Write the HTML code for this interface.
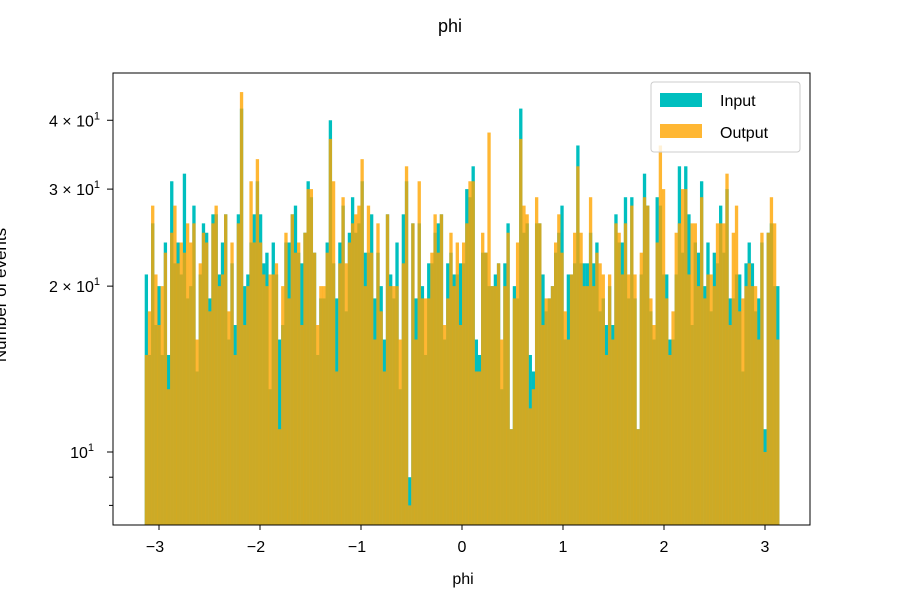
<!DOCTYPE html>
<html><head><meta charset="utf-8"><style>
body{margin:0;background:#fff;}
svg{display:block;font-family:"Liberation Sans","DejaVu Sans",sans-serif;}
</style></head><body>
<svg id="chart" width="902" height="600" viewBox="0 0 902 600">
<text x="450" y="32" font-size="18" text-anchor="middle">phi</text>
<g id="bars"></g>
<rect x="113" y="73" width="697" height="452" fill="none" stroke="#000" stroke-width="1"/>
<g id="xticks"></g>
<g id="yticks"></g>
<text x="463" y="584" font-size="16" text-anchor="middle">phi</text>
<text transform="translate(6,295) rotate(-90)" font-size="17" text-anchor="middle">Number of events</text>
<g>
<rect x="651" y="82" width="149" height="70" rx="3" fill="#fff" fill-opacity="0.8" stroke="#ccc"/>
<rect x="660" y="93" width="42" height="14" fill="#00bfbf"/>
<text x="720" y="106" font-size="16">Input</text>
<rect x="660" y="124" width="42" height="14" fill="#ffa500" fill-opacity="0.8"/>
<text x="720" y="138" font-size="16">Output</text>
</g>
</svg>
<script>
const inputCounts=[21,15,26,17,20,15,24,15,31,22,24,21,32,19,20,28,14,21,26,25,19,27,27,21,24,27,16,22,17,27,42,20,21,24,27,31,27,22,23,13,24,21,16,17,24,24,27,28,23,22,
25,31,29,23,15,19,19,24,40,22,19,24,28,18,25,29,25,26,31,23,23,27,19,23,20,16,27,21,19,24,13,27,31,9,26,19,26,20,15,22,22,25,26,27,16,22,23,21,21,22,
22,30,29,33,16,15,23,23,20,20,21,22,13,22,26,11,20,19,42,25,26,15,14,26,26,21,18,19,20,23,25,28,16,21,21,22,36,22,22,22,25,22,24,18,19,17,20,17,27,24,
24,29,19,29,19,11,21,32,28,18,16,29,28,21,21,16,16,21,33,23,33,27,17,24,23,31,20,24,18,23,22,28,23,30,19,19,21,21,14,22,24,22,18,19,24,11,25,26,20,20];
const outputCounts=[15,18,28,21,17,20,23,13,25,28,22,24,23,26,24,26,16,22,25,24,18,26,28,20,21,27,18,24,15,26,45,17,20,31,24,34,24,21,20,21,21,22,11,20,25,19,27,23,24,17,
25,30,30,23,17,20,20,23,37,31,14,22,29,22,24,26,27,28,34,20,28,23,16,26,18,14,27,20,20,20,16,22,33,8,26,16,31,19,19,19,23,27,23,27,17,19,25,20,24,17,
24,26,31,31,14,14,25,23,38,20,20,22,16,20,25,11,19,24,37,28,27,12,13,29,26,17,19,19,20,24,27,23,18,16,21,25,33,25,20,20,29,20,23,22,21,15,21,16,26,25,
21,26,21,28,21,11,23,29,28,19,17,24,36,30,19,15,18,25,26,30,30,21,26,26,20,29,19,21,21,20,26,26,26,32,17,25,28,18,19,20,22,20,20,16,25,10,25,29,26,16];
const xTickValues=[-3,-2,-1,0,1,2,3];
const xTickLabels=["\u22123","\u22122","\u22121","0","1","2","3"];
const yMajorTicks=[10,20,30,40];
const yMajorLabels=[["10","1"],["2 \u00d7 10","1"],["3 \u00d7 10","1"],["4 \u00d7 10","1"]];
const yMinorTicks=[8,9];
const NS="http://www.w3.org/2000/svg";
const x=v=>462+101*v;
const y=v=>452-551*Math.log10(v/10);
const bottom=525;
function mk(tag,attrs,parent){const e=document.createElementNS(NS,tag);for(const k in attrs)e.setAttribute(k,attrs[k]);parent.appendChild(e);return e;}
const bars=document.getElementById('bars');
const n=inputCounts.length;
const lo=-Math.PI,w=2*Math.PI/n;
for(let i=0;i<n;i++){
  const x0=x(lo+i*w),x1=x(lo+(i+1)*w);
  const yy=Math.min(y(inputCounts[i]),bottom);
  const r=mk('rect',{x:x0,y:yy,width:x1-x0+0.15,height:bottom-yy,fill:'#00bfbf'},bars);
  
  
}
for(let i=0;i<n;i++){
  const x0=x(lo+i*w),x1=x(lo+(i+1)*w);
  const yy=Math.min(y(outputCounts[i]),bottom);
  const r=mk('rect',{x:x0,y:yy,width:x1-x0+0.15,height:bottom-yy,fill:'#ffa500','fill-opacity':0.8},bars);
  
  
}
const xt=document.getElementById('xticks');
xTickValues.forEach((v,i)=>{
  const t=mk('line',{x1:x(v),x2:x(v),y1:525,y2:530,stroke:'#000'},xt);
  
  
  const l=mk('text',{x:x(v)-(v<0?4:0),y:552,'font-size':16,'text-anchor':'middle'},xt);
  l.textContent=xTickLabels[i];
  
  
});
const yt=document.getElementById('yticks');
yMajorTicks.forEach((v,i)=>{
  const t=mk('line',{x1:113,x2:107,y1:y(v),y2:y(v),stroke:'#000'},yt);
  
  
  const l=mk('text',{x:v===10?94:100,y:y(v)+6,'font-size':16,'text-anchor':'end'},yt);
  
  
  const a=mk('tspan',{},l);a.textContent=yMajorLabels[i][0];
  const s=mk('tspan',{dy:-7,'font-size':11},l);s.textContent=yMajorLabels[i][1];
});
yMinorTicks.forEach(v=>{
  const t=mk('line',{x1:113,x2:109,y1:y(v),y2:y(v),stroke:'#000'},yt);
  
  
});
</script>
</body></html>
